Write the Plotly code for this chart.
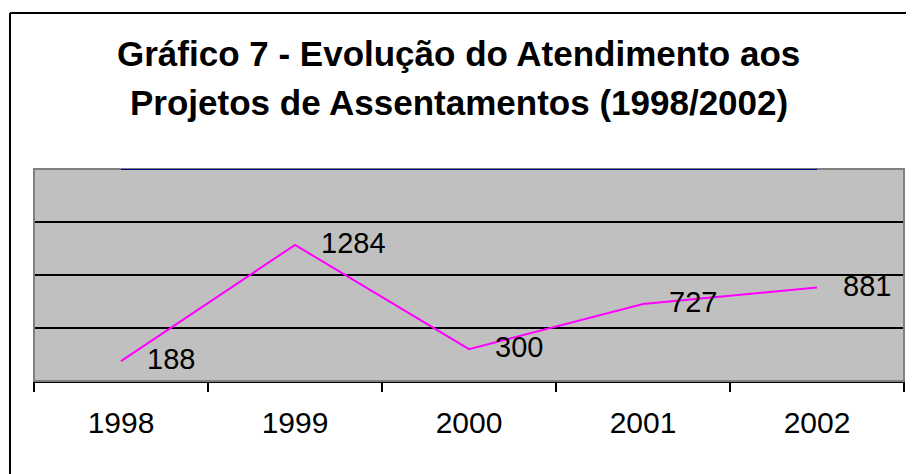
import plotly.graph_objects as go

years = ["1998", "1999", "2000", "2001", "2002"]
atendimentos = [188, 1284, 300, 727, 881]
y_range = [0, 2000]
gridlines = [500, 1000, 1500]
title_line1 = "Gráfico 7 - Evolução do Atendimento aos"
title_line2 = "Projetos de Assentamentos (1998/2002)"

FONT = "Arial, 'Liberation Sans', sans-serif"
idx = list(range(len(years)))

fig = go.Figure()
fig.add_trace(go.Scatter(
    x=idx, y=atendimentos, mode="lines",
    line=dict(color="#FF00FF", width=2),
    hoverinfo="skip", showlegend=False,
))
fig.add_trace(go.Scatter(x=[None], y=[None], xaxis="x2", yaxis="y",
                         showlegend=False, hoverinfo="skip"))

annotations = []
for i, v in zip(idx, atendimentos):
    annotations.append(dict(
        x=i, y=v, xref="x", yref="y", text=str(v), showarrow=False,
        xanchor="left", yanchor="middle", xshift=24, yshift=2,
        font=dict(family=FONT, size=29, color="black"),
    ))
annotations.append(dict(
    x=0.4885, y=1.547, xref="paper", yref="paper", text="<b>%s</b>" % title_line1,
    showarrow=False, xanchor="center", yanchor="middle",
    font=dict(family=FONT, size=35, color="black"),
))
annotations.append(dict(
    x=0.4885, y=1.3137, xref="paper", yref="paper", text="<b>%s</b>" % title_line2,
    showarrow=False, xanchor="center", yanchor="middle",
    font=dict(family=FONT, size=35, color="black"),
))

shapes = [
    dict(type="rect", xref="paper", yref="paper", x0=0, x1=1, y0=0, y1=1,
         line=dict(color="#808080", width=2), layer="above"),
    dict(type="line", xref="x", yref="y", x0=idx[0], x1=idx[-1],
         y0=y_range[1], y1=y_range[1], line=dict(color="#000080", width=2), layer="above"),
    # outer chart frame (left and top edges visible)
    dict(type="line", xref="paper", yref="paper", x0=-0.0276, x1=-0.0276, y0=-0.6, y1=1.736,
         line=dict(color="black", width=2), layer="above"),
    dict(type="line", xref="paper", yref="paper", x0=-0.0276, x1=1.2, y0=1.736, y1=1.736,
         line=dict(color="black", width=2), layer="above"),
]

fig.update_layout(
    width=906, height=466,
    margin=dict(l=26, r=10, t=161, b=93, autoexpand=False),
    paper_bgcolor="white", plot_bgcolor="#C0C0C0",
    showlegend=False,
    annotations=annotations, shapes=shapes,
    xaxis=dict(
        range=[-0.5, len(years) - 0.5], tickvals=idx, ticktext=years, tickangle=0,
        ticks="", showline=True, linecolor="black", linewidth=2, zeroline=False,
        showgrid=False, ticklabelstandoff=14, automargin=False,
        tickfont=dict(family=FONT, size=30, color="black"),
        fixedrange=True,
    ),
    xaxis2=dict(
        overlaying="x", anchor="y", side="bottom", range=[-0.5, len(years) - 0.5],
        tickvals=[i - 0.5 for i in range(len(years) + 1)], showticklabels=False,
        ticks="outside", ticklen=10, tickwidth=2, tickcolor="black",
        showline=False, showgrid=False, zeroline=False, automargin=False, fixedrange=True,
    ),
    yaxis=dict(
        range=y_range, tickvals=gridlines, showticklabels=False, ticks="",
        showgrid=True, gridcolor="black", gridwidth=2, zeroline=False,
        showline=False, fixedrange=True, automargin=False,
    ),
)

fig.write_html("out.html")
